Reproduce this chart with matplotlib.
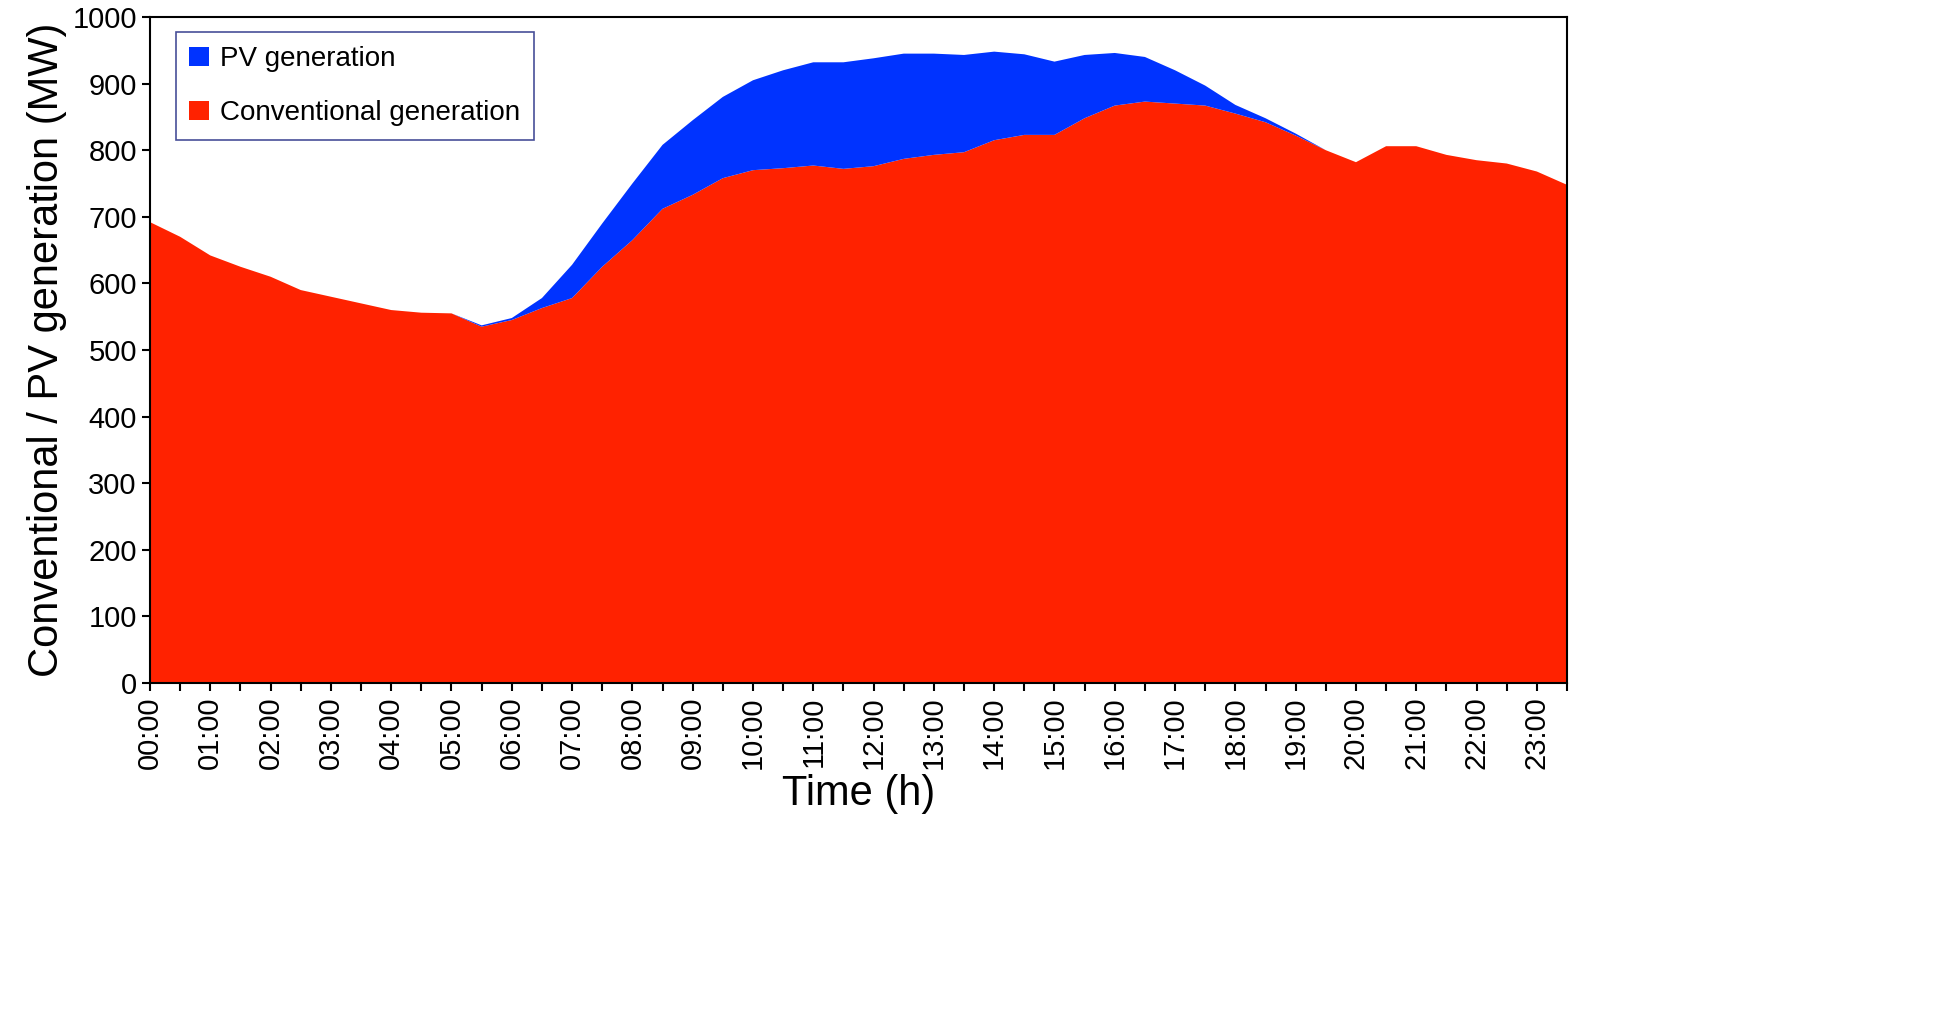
import matplotlib
matplotlib.use("Agg")
import matplotlib.pyplot as plt
import numpy as np

plt.rcParams['font.family'] = ['Liberation Sans', 'DejaVu Sans']

times = [f"{h:02d}:{m:02d}" for h in range(24) for m in (0, 30)]
conventional = [692, 670, 642, 625, 610, 590, 580, 570, 560, 556, 555, 535, 545, 563, 578, 625,
                665, 712, 733, 758, 770, 773, 777, 772, 776, 787, 793, 797, 815, 823, 823, 848,
                867, 873, 870, 867, 855, 842, 822, 800, 782, 806, 806, 793, 785, 780, 768, 748]
total = [692, 670, 642, 625, 610, 590, 580, 570, 560, 556, 555, 537, 548, 578, 628, 690,
         750, 808, 845, 880, 905, 920, 932, 932, 938, 945, 945, 943, 948, 944, 933, 943,
         946, 940, 920, 897, 868, 848, 825, 800, 782, 806, 806, 793, 785, 780, 768, 748]
pv = [t - c for t, c in zip(total, conventional)]

x = np.arange(len(times)) * 0.5
fig = plt.figure(figsize=(19.59, 10.10), dpi=100)
ax = fig.add_axes([150/1959, 1-683/1010, (1567-150)/1959, (683-17)/1010])
ax.stackplot(x, conventional, pv, colors=['#ff2200', '#0033ff'],
             labels=['Conventional generation', 'PV generation'])
ax.set_xlim(0, 23.5)
ax.set_ylim(0, 1000)
ax.set_yticks(range(0, 1001, 100))
ax.set_xticks(np.arange(24))
ax.set_xticks(np.arange(0, 23.6, 0.5), minor=True)
ax.set_xticklabels([f"{h:02d}:00" for h in range(24)], rotation=90)
ax.tick_params(axis='both', labelsize=21, direction='out', length=6, width=1.5)
ax.tick_params(axis='x', which='minor', length=6, width=1.5)
for s in ax.spines.values():
    s.set_linewidth(1.5)
ax.set_xlabel('Time (h)', fontsize=30)
ax.set_ylabel('Conventional / PV generation (MW)', fontsize=30)
h, l = ax.get_legend_handles_labels()
leg = ax.legend(h[::-1], l[::-1], loc='upper left', bbox_to_anchor=(0.018, 0.977),
                fontsize=20, frameon=True, fancybox=False, edgecolor='#1a237e',
                handlelength=0.7, handleheight=0.7, labelspacing=1.0, borderpad=0.5,
                handletextpad=0.4, borderaxespad=0)
leg.get_frame().set_linewidth(1.2)
fig.savefig('out.png', dpi=100)
